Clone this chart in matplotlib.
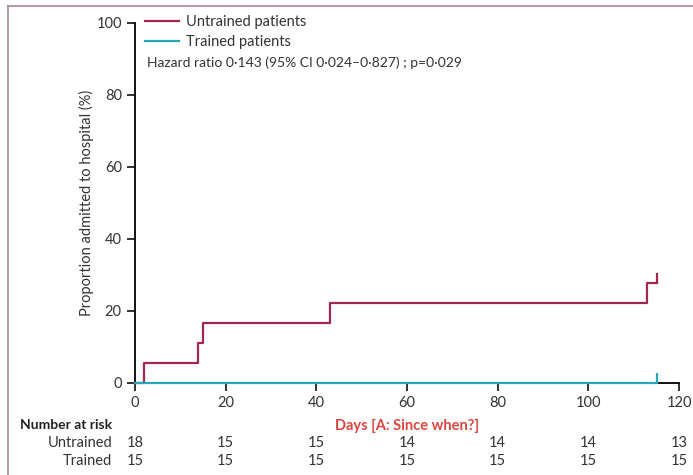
import matplotlib.pyplot as plt
from matplotlib.lines import Line2D

# Kaplan-Meier style cumulative admission curves (%)
untrained_days = [0, 2, 14, 15, 43, 113, 115.2]
untrained_pct = [0, 5.56, 11.1, 16.7, 22.2, 27.8, 27.8]
trained_days = [0, 115.2]
trained_pct = [0, 0]

risk_days = [0, 20, 40, 60, 80, 100, 120]
risk_untrained = [18, 15, 15, 14, 14, 14, 13]
risk_trained = [15, 15, 15, 15, 15, 15, 15]

red = '#a3284f'
teal = '#2ba6b8'
label_red = '#d9463e'

plt.rcParams['font.family'] = ['Lato', 'DejaVu Sans']
plt.rcParams['font.size'] = 10

fig = plt.figure(figsize=(6.93, 4.75), dpi=100)
ax = fig.add_axes([135/693, 1-383/475, 544/693, 360/475])

ax.step(untrained_days, untrained_pct, where='post', color=red, lw=1.6,
        clip_on=False, zorder=3, label='Untrained patients')
ax.step(trained_days, trained_pct, where='post', color=teal, lw=1.6,
        clip_on=False, zorder=3, label='Trained patients')
# censor ticks at end of follow-up
ax.plot(untrained_days[-1:], untrained_pct[-1:], marker=2, ms=7, mew=1.6,
        color=red, clip_on=False, zorder=3)
ax.plot(trained_days[-1:], trained_pct[-1:], marker=2, ms=7, mew=1.6,
        color=teal, clip_on=False, zorder=3)

ax.set_xlim(0, 120)
ax.set_ylim(0, 100)
ax.set_xticks(risk_days)
ax.set_yticks([0, 20, 40, 60, 80, 100])
ax.spines['top'].set_visible(False)
ax.spines['right'].set_visible(False)
for s in ['left', 'bottom']:
    ax.spines[s].set_linewidth(1.3)
ax.tick_params(length=6, width=1.3, colors='#222222', labelsize=10.5,
               labelcolor='#333333')
ax.set_xlabel('Days [A: Since when?]', color=label_red, fontweight='bold',
              fontsize=10.5, labelpad=6)
ax.set_ylabel('Proportion admitted to hospital (%)', color='#333333',
              fontsize=10.5, labelpad=2)

leg = ax.legend(loc='upper left', bbox_to_anchor=(0.0, 1.05), frameon=False,
                handlelength=2.3, handletextpad=0.5, labelspacing=0.4,
                fontsize=10.5, borderaxespad=0.3)
for t in leg.get_texts():
    t.set_color('#333333')
ax.text(147/693, 1-63/475, 'Hazard ratio 0·143 (95% CI 0·024–0·827) ; p=0·029',
        transform=fig.transFigure, fontsize=10, color='#333333', va='center')

# number at risk table
fig.text(112/693, 1-425/475, 'Number at risk', ha='right', va='center',
         fontweight='bold', fontsize=10, color='#222222')
fig.text(112/693, 1-443/475, 'Untrained', ha='right', va='center',
         fontsize=10.5, color='#333333')
fig.text(112/693, 1-461/475, 'Trained', ha='right', va='center',
         fontsize=10.5, color='#333333')
for d, u, t in zip(risk_days, risk_untrained, risk_trained):
    xf = fig.transFigure.inverted().transform(ax.transData.transform((d, 0)))[0]
    fig.text(xf, 1-443/475, str(u), ha='center', va='center', fontsize=10.5,
             color='#333333')
    fig.text(xf, 1-461/475, str(t), ha='center', va='center', fontsize=10.5,
             color='#333333')

# page border (top and left only)
top = 1 - 6/475
left = 8/693
fig.lines.append(Line2D([left, 1.0], [top, top], transform=fig.transFigure,
                        color='#a8889c', lw=1.2))
fig.lines.append(Line2D([left, left], [0, top], transform=fig.transFigure,
                        color='#a8889c', lw=1.2))

fig.savefig('out.png', dpi=100)
